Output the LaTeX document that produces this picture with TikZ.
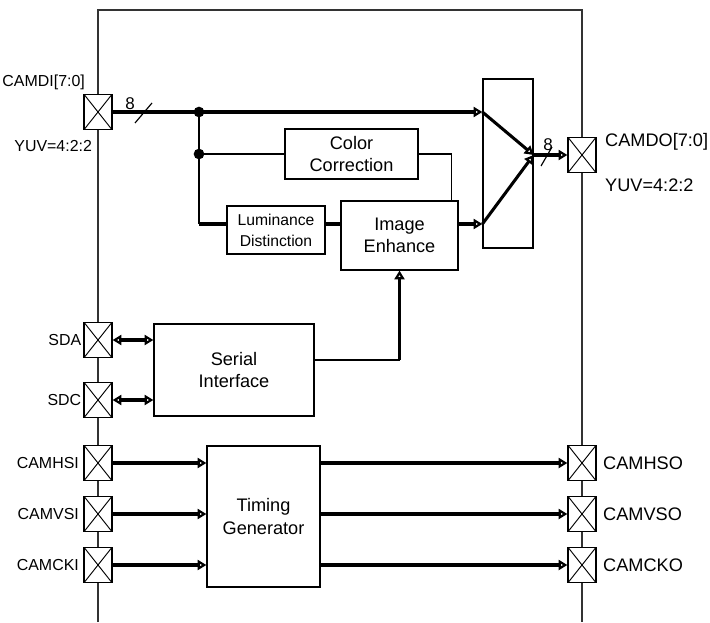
\documentclass[tikz,border=0pt]{standalone}
\usepackage{fontspec}
\setmainfont{Liberation Sans}
\usetikzlibrary{arrows.meta,positioning}

\begin{document}
\begin{tikzpicture}[x=0.03cm,y=-0.03cm,line width=1pt,
    >={Triangle[open,length=7.5pt,width=8.5pt]},
    blk/.style={draw,line width=1pt,align=center,inner sep=0pt,font=\fontsize{15.5}{19}\selectfont},
    pad/.style={draw,fill=white,line width=1pt,minimum width=0.84cm,minimum height=1.06cm,inner sep=0pt,
        path picture={\draw[line width=0.8pt] (path picture bounding box.north west) -- (path picture bounding box.south east)
            (path picture bounding box.north east) -- (path picture bounding box.south west);}},
    bus/.style={line width=2.6pt},
    lbl/.style={inner sep=0pt,font=\fontsize{13.6}{15}\selectfont},
    biglbl/.style={inner sep=0pt,font=\fontsize{15.5}{17}\selectfont}]
    \useasboundingbox (0,0) rectangle (710,622);
    % chip outline
    \draw[black!80] (98,622) -- (98,10) -- (582,10) -- (582,622);
    % blocks
    \node[blk,minimum width=3.99cm,minimum height=1.5cm] (colcor) at (351.5,154) {Color\\Correction};
    \node[blk,minimum width=2.94cm,minimum height=1.44cm,font=\fontsize{13.4}{18}\selectfont] (lumdis) at (276,230) {Luminance\\Distinction};
    \node[blk,minimum width=3.51cm,minimum height=2.07cm] (imgenh) at (399.5,235.5) {Image\\Enhance};
    \node[blk,minimum width=1.5cm,minimum height=5.07cm] (mux) at (508,163.5) {};
    \node[blk,minimum width=4.8cm,minimum height=2.76cm] (serial) at (234,370) {Serial\\Interface};
    \node[blk,minimum width=3.39cm,minimum height=4.23cm] (timing) at (263.5,516.5) {Timing\\Generator};
    % pads
    \node[pad] (camdi) at (98,112) {};
    \node[pad] (camdo) at (582,155) {};
    \node[pad] (sda) at (98,340) {};
    \node[pad] (sdc) at (98,400) {};
    \node[pad] (camhsi) at (98,463) {};
    \node[pad] (camvsi) at (98,514) {};
    \node[pad] (camcki) at (98,565) {};
    \node[pad] (camhso) at (582,463) {};
    \node[pad] (camvso) at (582,514) {};
    \node[pad] (camcko) at (582,565) {};
    % pad labels
    \node[lbl,above left=0.1cm and -0.06cm of camdi.north west] (camdi_name) {CAMDI[7:0]};
    \node[lbl,below left=0.3cm and 0.165cm of camdi.south] (camdi_fmt) {YUV=4:2:2};
    \node[biglbl,anchor=west] (camdo_name) at ([xshift=0.24cm,yshift=0.4cm]camdo.east) {CAMDO[7:0]};
    \node[biglbl,anchor=west] (camdo_fmt) at ([xshift=0.24cm,yshift=-0.9cm]camdo.east) {YUV=4:2:2};
    \node[lbl,left=0.05cm of sda] (sda_name) {SDA};
    \node[lbl,left=0.05cm of sdc] (sdc_name) {SDC};
    \foreach \pin/\txt in {camhsi/CAMHSI,camvsi/CAMVSI,camcki/CAMCKI}
        \node[lbl,left=0.12cm of \pin] {\txt};
    \foreach \pin/\txt in {camhso/CAMHSO,camvso/CAMVSO,camcko/CAMCKO}
        \node[biglbl,right=0.18cm of \pin] {\txt};
    % video path
    \coordinate (j1) at (199,112);
    \coordinate (j2) at (199,154);
    \coordinate (lumrow) at (199,224);
    \coordinate (muxout) at (mux.east |- camdo);
    \draw[bus,->] (camdi.east) -- (camdi.east -| mux.west) coordinate (in1);
    \draw (j1) -- (j2) -- (lumrow);
    \draw[bus] (lumrow) -- (lumrow -| lumdis.west);
    \draw (j2) -- (colcor.west);
    \draw (colcor.east) -| ([xshift=-0.21cm]imgenh.north east);
    \draw[bus] (lumrow -| lumdis.east) -- (lumrow -| imgenh.west);
    \draw[bus,->] (lumrow -| imgenh.east) -- (lumrow -| mux.west) coordinate (in2);
    \draw[bus,->] (in1) -- (muxout);
    \draw[bus,->] (in2) -- (muxout);
    \draw[bus,->] (muxout) -- (camdo.west);
    \fill (j1) circle (0.16cm);
    \fill (j2) circle (0.16cm);
    % bus width marks
    \draw (135,123) -- (152,103);
    \node[lbl,font=\fontsize{14.5}{16}\selectfont] (w_in) at (130,104) {8};
    \draw (541,166) -- (552,147);
    \node[lbl,font=\fontsize{14.5}{16}\selectfont] (w_out) at (548,145) {8};
    % control
    \draw[bus,<->] (sda.east) -- (sda.east -| serial.west);
    \draw[bus,<->] (sdc.east) -- (sdc.east -| serial.west);
    \draw ([yshift=0.3cm]serial.east) -- ([yshift=0.3cm]serial.east -| imgenh.south) coordinate (bend);
    \draw[bus,->] (bend) -- (imgenh.south);
    % sync signals
    \foreach \s in {hs,vs,ck} {
        \draw[bus,->] (cam\s i.east) -- (cam\s i.east -| timing.west);
        \draw[bus,->] (cam\s o.west -| timing.east) -- (cam\s o.west);
    }
\end{tikzpicture}
\end{document}
